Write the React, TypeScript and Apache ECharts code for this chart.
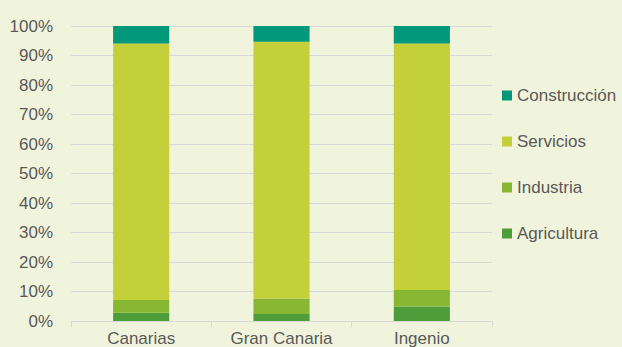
import React, { useEffect, useRef } from "react";
import * as echarts from "echarts";

const categories = ["Canarias", "Gran Canaria", "Ingenio"];
const agricultura = [2.8, 2.4, 4.9];
const industria = [4.3, 5.2, 5.6];
const servicios = [87.0, 87.1, 83.6];
const construccion = [5.9, 5.3, 5.9];
const legendOrder = ["Construcción", "Servicios", "Industria", "Agricultura"];

const FONT = "Liberation Sans, Arial, sans-serif";
const TEXT = "#595959";

export default function App() {
  const ref = useRef<HTMLDivElement>(null);
  useEffect(() => {
    if (!ref.current) return;
    const chart = echarts.init(ref.current, undefined, { renderer: "svg" });
    const mk = (name: string, data: number[], color: string) => ({
      name,
      type: "bar",
      stack: "total",
      data,
      barWidth: "40%",
      itemStyle: { color },
    });
    chart.setOption({
      animation: false,
      backgroundColor: "#f1f4dc",
      textStyle: { fontFamily: FONT },
      grid: { left: 71, right: 130, top: 26, bottom: 26 },
      legend: {
        data: legendOrder,
        orient: "vertical",
        left: 497,
        top: 82,
        itemWidth: 10,
        itemHeight: 10,
        itemGap: 29,
        icon: "rect",
        textStyle: { color: TEXT, fontSize: 17, fontFamily: FONT },
      },
      xAxis: {
        type: "category",
        data: categories,
        axisLine: { lineStyle: { color: "#d9d9d9", width: 1 } },
        axisTick: { show: true, length: 6, lineStyle: { color: "#d9d9d9" } },
        axisLabel: { color: TEXT, fontSize: 17, margin: 9, fontFamily: FONT },
      },
      yAxis: {
        type: "value",
        min: 0,
        max: 100,
        interval: 10,
        axisLine: { show: false },
        axisTick: { show: false },
        splitLine: { lineStyle: { color: "#d9d9d9", width: 1 } },
        axisLabel: { color: TEXT, fontSize: 17, margin: 18, formatter: "{value}%", fontFamily: FONT },
      },
      series: [
        mk("Agricultura", agricultura, "#4f9d3a"),
        mk("Industria", industria, "#8ab733"),
        mk("Servicios", servicios, "#c3d03a"),
        mk("Construcción", construccion, "#009878"),
      ],
    });
    return () => chart.dispose();
  }, []);
  return <div ref={ref} style={{ width: 622, height: 347, position: "absolute", left: 0, top: 0 }} />;
}
